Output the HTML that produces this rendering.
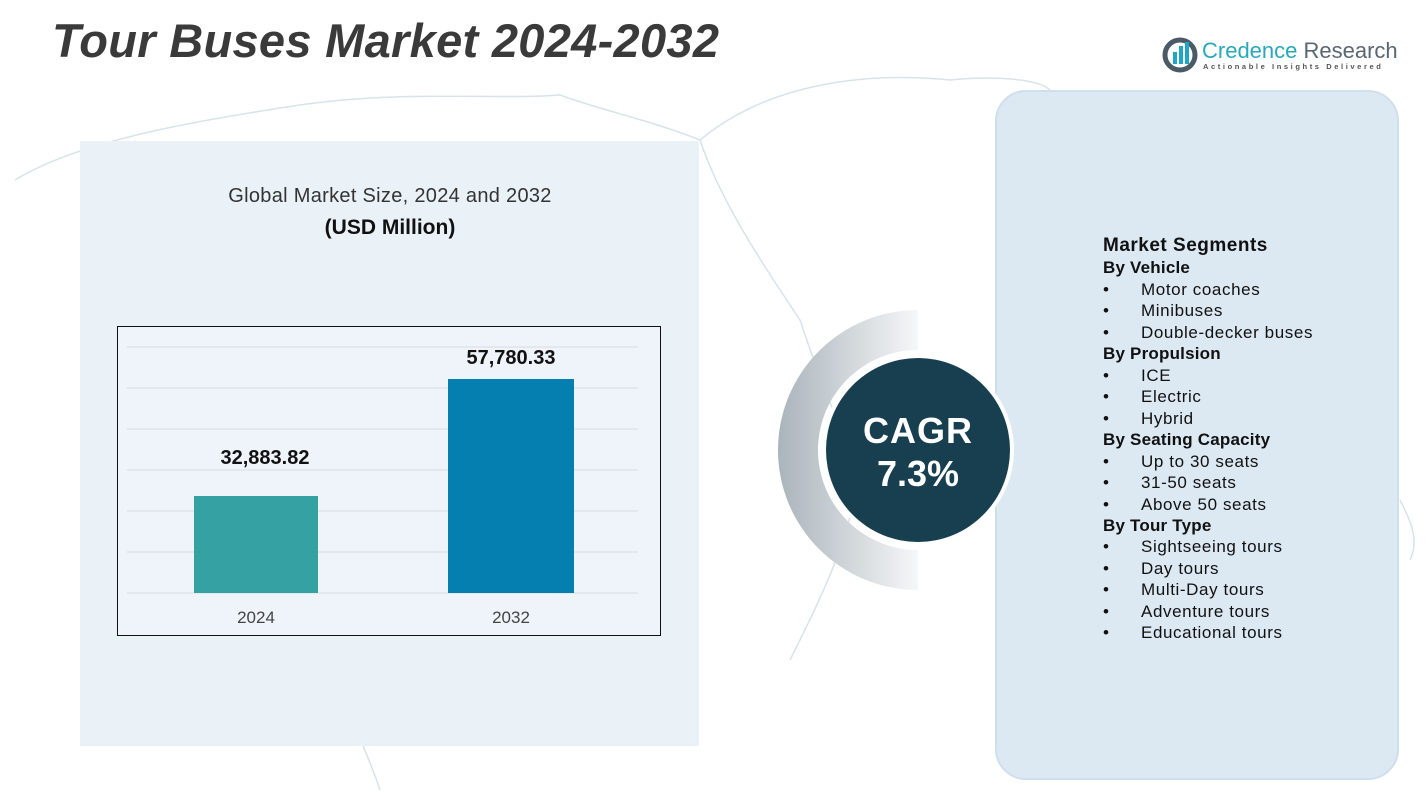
<!DOCTYPE html>
<html><head><meta charset="utf-8"><style>
body{margin:0;width:1428px;height:804px;background:#fff;position:relative;overflow:hidden;font-family:"Liberation Sans",sans-serif}
.a{position:absolute}
</style></head><body>
<svg class="a" style="left:0;top:0" width="1428" height="804">
<g fill="none" stroke="#d7e3ea" stroke-width="1.5">
<path d="M15 180 C80 140 200 120 300 105 C400 90 500 100 560 95 C600 110 650 120 700 140"/>
<path d="M700 140 C760 90 850 70 950 80 C1000 75 1040 80 1050 90"/>
<path d="M700 140 C720 200 760 260 800 320 C820 380 840 430 860 470 C850 540 820 600 790 660"/>
<path d="M300 620 C330 680 360 730 380 790"/>
<path d="M1400 500 C1410 520 1420 540 1410 560"/>
</g>
<rect x="80" y="141" width="619" height="605" fill="#eaf2f8"/>
<rect x="996" y="91" width="402" height="688" rx="30" fill="#dce9f3" stroke="#cfe0ec" stroke-width="2"/>
<defs><linearGradient id="g" x1="0" x2="1"><stop offset="0" stop-color="#aab4bb"/><stop offset="1" stop-color="#f6f7f8"/></linearGradient></defs>
<path d="M918 310 A140 140 0 0 0 918 590 L918 550 A100 100 0 0 1 918 350 Z" fill="url(#g)"/>
<circle cx="918" cy="450" r="96" fill="#fff"/>
<circle cx="918" cy="450" r="92" fill="#173f4f"/>
<rect x="117.5" y="326.5" width="543" height="309" fill="#eef4f9" stroke="#111" stroke-width="1"/>
<g stroke="#d5dde3" stroke-width="1">
<line x1="127" x2="638" y1="347" y2="347"/><line x1="127" x2="638" y1="388" y2="388"/><line x1="127" x2="638" y1="429" y2="429"/><line x1="127" x2="638" y1="470" y2="470"/><line x1="127" x2="638" y1="511" y2="511"/><line x1="127" x2="638" y1="552" y2="552"/><line x1="127" x2="638" y1="593" y2="593"/>
</g>
<rect x="194" y="496" width="124" height="97" fill="#35a1a2"/>
<rect x="448" y="379" width="126" height="214" fill="#047fb0"/>
<g font-family="Liberation Sans,sans-serif" text-anchor="middle">
<text x="265" y="464" font-size="20" font-weight="bold" fill="#111">32,883.82</text>
<text x="511" y="364" font-size="20" font-weight="bold" fill="#111">57,780.33</text>
<text x="256" y="623" font-size="17" fill="#444">2024</text>
<text x="511" y="623" font-size="17" fill="#444">2032</text>
<text x="390" y="202" font-size="20" fill="#333" letter-spacing="0.3">Global Market Size, 2024 and 2032</text>
<text x="390" y="234" font-size="21" font-weight="bold" fill="#111">(USD Million)</text>
<text x="918" y="443" font-size="36" font-weight="bold" fill="#fff" letter-spacing="1">CAGR</text>
<text x="918" y="486" font-size="36" font-weight="bold" fill="#fff">7.3%</text>
</g>
<text x="52" y="57" font-size="47" font-weight="bold" font-style="italic" fill="#3a3a3a" letter-spacing="0.3" font-family="Liberation Sans,sans-serif">Tour Buses Market 2024-2032</text>
<circle cx="1180" cy="55" r="15" fill="none" stroke="#4a5a66" stroke-width="5"/>
<rect x="1173" y="52" width="4" height="12" fill="#1ea6c6"/><rect x="1179" y="46" width="4" height="18" fill="#1ea6c6"/><rect x="1185" y="42" width="4" height="22" fill="#1ea6c6"/>
<text x="1202" y="58" font-size="22" fill="#27a9b9" font-family="Liberation Sans,sans-serif">Credence <tspan fill="#5a6670">Research</tspan></text>
<text x="1203" y="69" font-size="7.5" letter-spacing="2.6" fill="#555" font-weight="bold" font-family="Liberation Sans,sans-serif">Actionable Insights Delivered</text>
<g font-family="Liberation Sans,sans-serif" fill="#111">
<text x="1103" y="251" font-size="19" font-weight="bold" letter-spacing="0.5">Market Segments</text>
<g font-size="17" letter-spacing="0.6">
<text x="1103" y="273" font-weight="bold" letter-spacing="0.2">By Vehicle</text>
<text x="1103" y="295">•</text><text x="1141" y="295">Motor coaches</text>
<text x="1103" y="316">•</text><text x="1141" y="316">Minibuses</text>
<text x="1103" y="338">•</text><text x="1141" y="338">Double-decker buses</text>
<text x="1103" y="359" font-weight="bold" letter-spacing="0.2">By Propulsion</text>
<text x="1103" y="381">•</text><text x="1141" y="381">ICE</text>
<text x="1103" y="402">•</text><text x="1141" y="402">Electric</text>
<text x="1103" y="424">•</text><text x="1141" y="424">Hybrid</text>
<text x="1103" y="445" font-weight="bold" letter-spacing="0.2">By Seating Capacity</text>
<text x="1103" y="467">•</text><text x="1141" y="467">Up to 30 seats</text>
<text x="1103" y="488">•</text><text x="1141" y="488">31-50 seats</text>
<text x="1103" y="510">•</text><text x="1141" y="510">Above 50 seats</text>
<text x="1103" y="531" font-weight="bold" letter-spacing="0.2">By Tour Type</text>
<text x="1103" y="552">•</text><text x="1141" y="552">Sightseeing tours</text>
<text x="1103" y="574">•</text><text x="1141" y="574">Day tours</text>
<text x="1103" y="595">•</text><text x="1141" y="595">Multi-Day tours</text>
<text x="1103" y="617">•</text><text x="1141" y="617">Adventure tours</text>
<text x="1103" y="638">•</text><text x="1141" y="638">Educational tours</text>
</g></g>
</svg>
</body></html>
